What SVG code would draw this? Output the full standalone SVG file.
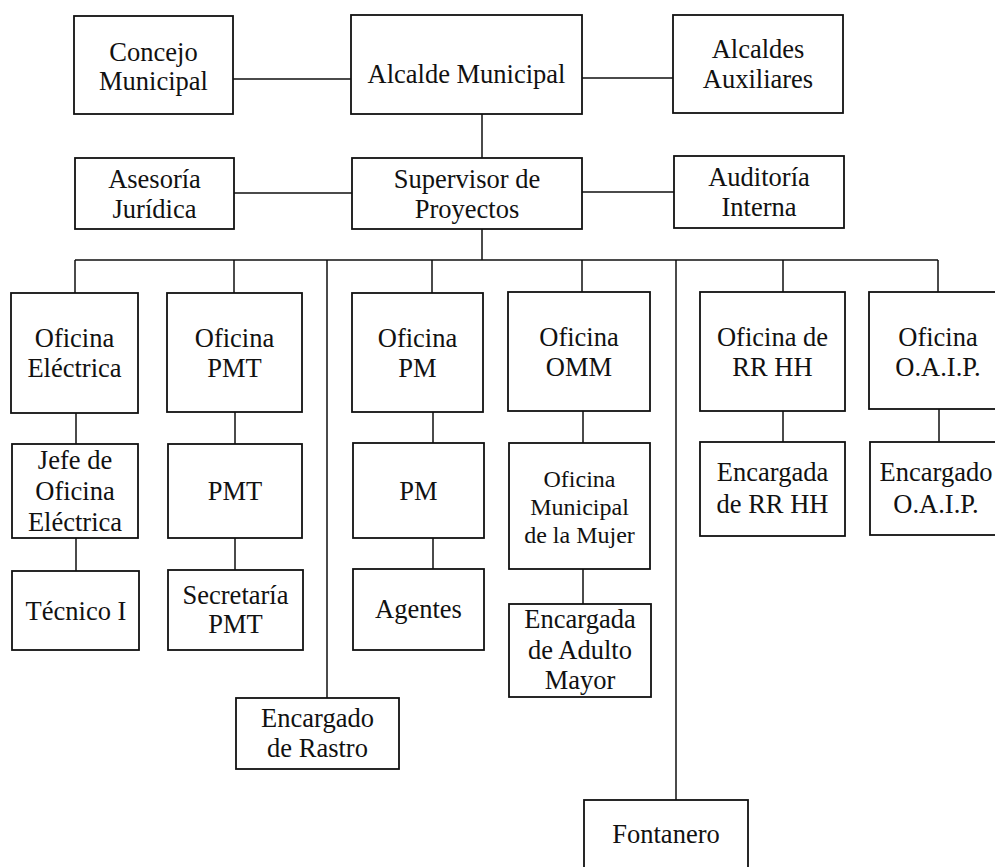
<svg xmlns="http://www.w3.org/2000/svg" width="995" height="867" viewBox="0 0 995 867">
<style>
.b{fill:#fff;stroke:#111;stroke-width:1.8}
.c{stroke:#111;stroke-width:1.5;fill:none}
text{font-family:"Liberation Serif","Times New Roman",serif;font-size:26.5px;fill:#111;text-anchor:middle}
.s{font-size:24px}
</style>
<rect width="995" height="867" fill="#fff"/>
<g id="connectors">
<path class="c" d="M233 79H351M582 78H673M482 114V158M234 193H352M582 192H674M482 229V260M75 260H938"/>
<path class="c" d="M75 260V293M234 260V293M327 260V698M432 260V293M582 260V292M676 260V800M783 260V292M938 260V292"/>
<path class="c" d="M76 413V444M76 538V571M235 412V444M235 538V570M433 412V443M433 538V569M583 411V443M583 569V604M783 411V442M939 409V442"/>
</g>
<g id="concejo"><rect class="b" x="74" y="16" width="159" height="98"/><text x="153.5" y="61">Concejo</text><text x="153.5" y="90">Municipal</text></g>
<g id="alcalde"><rect class="b" x="351" y="15" width="231" height="99"/><text x="466.5" y="83">Alcalde Municipal</text></g>
<g id="auxiliares"><rect class="b" x="673" y="15" width="170" height="98"/><text x="758" y="58">Alcaldes</text><text x="758" y="88">Auxiliares</text></g>
<g id="asesoria"><rect class="b" x="75" y="158" width="159" height="71"/><text x="154.5" y="188">Asesoría</text><text x="154.5" y="218">Jurídica</text></g>
<g id="supervisor"><rect class="b" x="352" y="158" width="230" height="71"/><text x="467" y="188">Supervisor de</text><text x="467" y="218">Proyectos</text></g>
<g id="auditoria"><rect class="b" x="674" y="156" width="170" height="72"/><text x="759" y="186">Auditoría</text><text x="759" y="216">Interna</text></g>
<g id="of_electrica"><rect class="b" x="11" y="293" width="127" height="120"/><text x="74.5" y="347">Oficina</text><text x="74.5" y="377">Eléctrica</text></g>
<g id="of_pmt"><rect class="b" x="167" y="293" width="135" height="119"/><text x="234.5" y="347">Oficina</text><text x="234.5" y="377">PMT</text></g>
<g id="of_pm"><rect class="b" x="352" y="293" width="131" height="119"/><text x="417.5" y="347">Oficina</text><text x="417.5" y="377">PM</text></g>
<g id="of_omm"><rect class="b" x="508" y="292" width="142" height="119"/><text x="579" y="346">Oficina</text><text x="579" y="376">OMM</text></g>
<g id="of_rrhh"><rect class="b" x="700" y="292" width="145" height="119"/><text x="772.5" y="346">Oficina de</text><text x="772.5" y="376">RR HH</text></g>
<g id="of_oaip"><rect class="b" x="869" y="292" width="140" height="117"/><text x="938" y="346">Oficina</text><text x="938" y="376">O.A.I.P.</text></g>
<g id="jefe"><rect class="b" x="12" y="444" width="126" height="94"/><text x="75" y="469">Jefe de</text><text x="75" y="500">Oficina</text><text x="75" y="531">Eléctrica</text></g>
<g id="pmt"><rect class="b" x="168" y="444" width="134" height="94"/><text x="235" y="500">PMT</text></g>
<g id="pm"><rect class="b" x="353" y="443" width="131" height="95"/><text x="418.5" y="500">PM</text></g>
<g id="mujer"><rect class="b" x="509" y="443" width="141" height="126"/><text class="s" x="579.5" y="487">Oficina</text><text class="s" x="579.5" y="515">Municipal</text><text class="s" x="579.5" y="543">de la Mujer</text></g>
<g id="enc_rrhh"><rect class="b" x="700" y="442" width="145" height="94"/><text x="772.5" y="481">Encargada</text><text x="772.5" y="513">de RR HH</text></g>
<g id="enc_oaip"><rect class="b" x="870" y="442" width="140" height="93"/><text x="936" y="481">Encargado</text><text x="936" y="513">O.A.I.P.</text></g>
<g id="tecnico"><rect class="b" x="12" y="571" width="127" height="79"/><text x="76" y="620">Técnico I</text></g>
<g id="secretaria"><rect class="b" x="168" y="570" width="135" height="80"/><text x="235.5" y="604">Secretaría</text><text x="235.5" y="633">PMT</text></g>
<g id="agentes"><rect class="b" x="353" y="569" width="131" height="81"/><text x="418.5" y="618">Agentes</text></g>
<g id="adulto"><rect class="b" x="509" y="604" width="142" height="93"/><text x="580" y="628">Encargada</text><text x="580" y="659">de Adulto</text><text x="580" y="689">Mayor</text></g>
<g id="rastro"><rect class="b" x="236" y="698" width="163" height="71"/><text x="317.5" y="727">Encargado</text><text x="317.5" y="757">de Rastro</text></g>
<g id="fontanero"><rect class="b" x="584" y="800" width="164" height="90"/><text x="666" y="843">Fontanero</text></g>
</svg>
